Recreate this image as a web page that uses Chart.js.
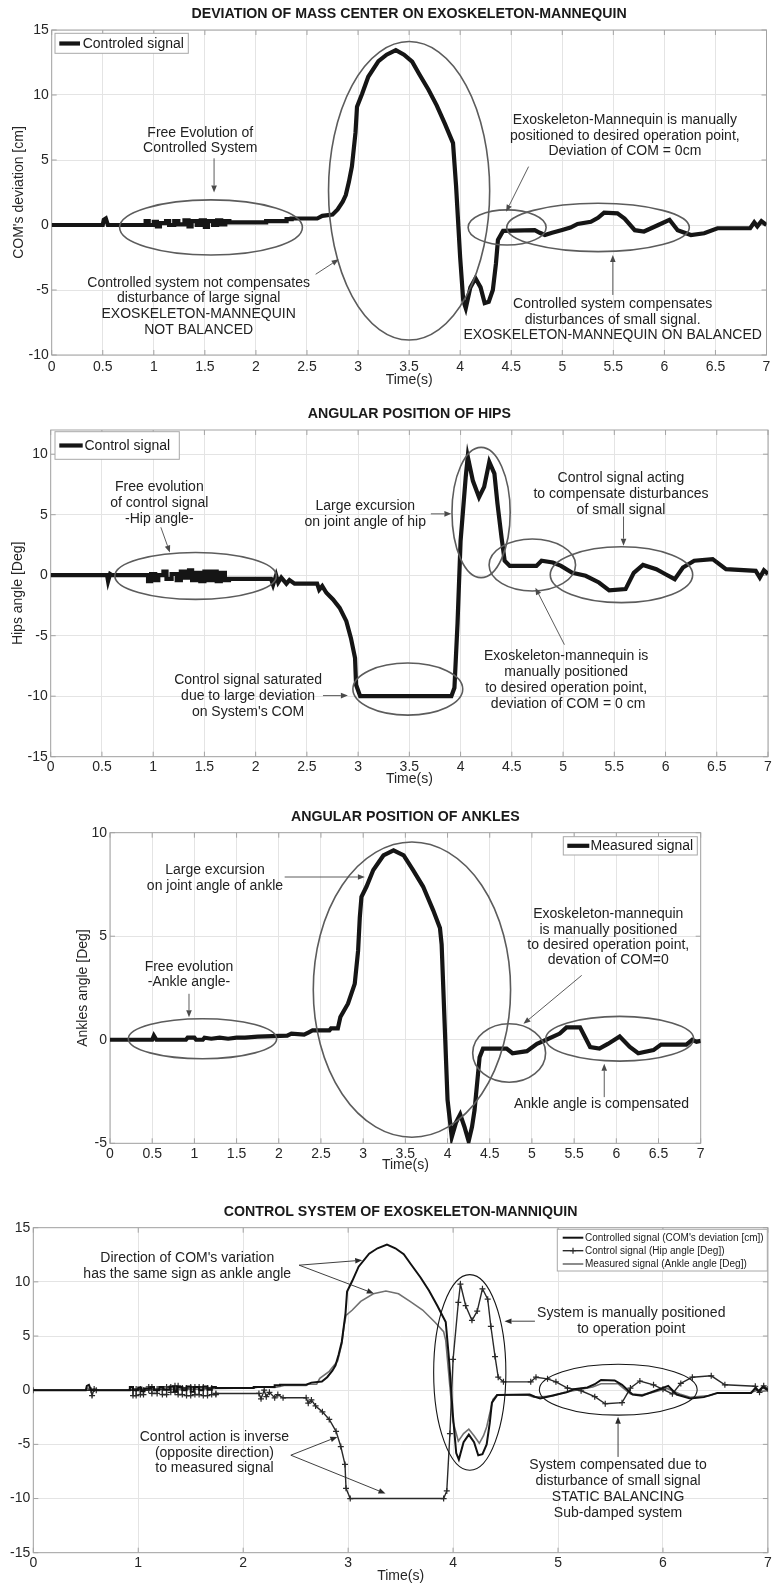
<!DOCTYPE html>
<html><head><meta charset="utf-8">
<script src="https://cdn.jsdelivr.net/npm/chart.js@4.4.1/dist/chart.umd.min.js"></script>
<style>
html,body{margin:0;padding:0;background:#fff;}
body{width:774px;height:1585px;position:relative;overflow:hidden;}
canvas{position:absolute;left:0;}
</style></head>
<body>
<canvas id="c1" width="774" height="392" style="top:0px;width:774px;height:392px"></canvas>
<canvas id="c2" width="774" height="398" style="top:392px;width:774px;height:398px"></canvas>
<canvas id="c3" width="774" height="385" style="top:790px;width:774px;height:385px"></canvas>
<canvas id="c4" width="774" height="415" style="top:1170px;width:774px;height:415px"></canvas>
<script>
// ---------- DATA (time [s], value) ----------
const comSeries = [[0,0],[0.5,0],[0.51,0.4],[0.53,0.5],[0.55,0],[0.9,0],[0.92,0],[0.92,0.3],[0.95,0.3],[0.95,0],[1.0,0],[1.0,0.25],[1.03,0.25],[1.03,-0.1],[1.06,-0.1],[1.06,0.15],[1.12,0.15],[1.12,0.3],[1.15,0.3],[1.15,0],[1.2,0],[1.2,0.3],[1.24,0.3],[1.24,0.05],[1.3,0.05],[1.3,0.35],[1.34,0.35],[1.34,-0.1],[1.37,-0.1],[1.37,0.3],[1.42,0.3],[1.42,0],[1.46,0],[1.46,0.35],[1.5,0.35],[1.5,-0.15],[1.53,-0.15],[1.53,0.3],[1.58,0.3],[1.58,0],[1.62,0],[1.62,0.35],[1.66,0.35],[1.66,0.05],[1.7,0.05],[1.7,0.3],[1.74,0.3],[1.74,0.2],[2.1,0.2],[2.1,0.3],[2.3,0.3],[2.3,0.45],[2.35,0.45],[2.35,0.5],[2.6,0.5],[2.65,0.7],[2.75,0.8],[2.8,1.2],[2.85,1.8],[2.88,2.3],[2.91,3.3],[2.94,4.5],[2.975,7.1],[2.99,9.1],[3.04,10.1],[3.1,11.4],[3.2,12.6],[3.28,13.1],[3.37,13.45],[3.45,13.1],[3.53,12.56],[3.6,11.6],[3.69,10.4],[3.77,9.2],[3.85,7.8],[3.93,6.3],[3.96,3.0],[4.0,-2.5],[4.03,-5.8],[4.055,-6.4],[4.1,-4.8],[4.15,-4.1],[4.2,-4.8],[4.24,-6.0],[4.28,-5.9],[4.32,-5.0],[4.35,-3.0],[4.37,-1.15],[4.42,-0.45],[4.73,-0.4],[4.78,-0.6],[4.83,-0.77],[4.9,-0.6],[4.99,-0.4],[5.08,-0.2],[5.15,0.08],[5.28,0.25],[5.35,0.55],[5.41,0.95],[5.54,0.9],[5.61,0.5],[5.71,-0.4],[5.8,-0.5],[5.94,0],[6.05,0.4],[6.13,-0.4],[6.26,-0.77],[6.39,-0.64],[6.52,-0.25],[6.84,-0.25],[6.88,0.2],[6.91,-0.1],[6.95,0.3],[7.0,0]];
const hipSeries = [[0,0],[0.55,0],[0.56,-0.5],[0.58,0.1],[0.6,0],[0.95,0],[0.95,-0.5],[0.98,-0.5],[0.98,0.1],[1.02,0.1],[1.02,-0.4],[1.05,-0.4],[1.05,0],[1.1,0],[1.1,0.3],[1.13,0.3],[1.13,-0.3],[1.18,-0.3],[1.18,0.1],[1.23,0.1],[1.23,-0.4],[1.27,-0.4],[1.27,0.3],[1.31,0.3],[1.31,-0.2],[1.35,-0.2],[1.35,0.4],[1.38,0.4],[1.38,-0.4],[1.42,-0.4],[1.42,0.2],[1.46,0.2],[1.46,-0.5],[1.5,-0.5],[1.5,0.3],[1.54,0.3],[1.54,-0.4],[1.58,-0.4],[1.58,0.3],[1.62,0.3],[1.62,-0.5],[1.66,-0.5],[1.66,0.2],[1.7,0.2],[1.7,-0.4],[1.74,-0.4],[1.74,-0.3],[2.15,-0.3],[2.17,-0.8],[2.2,0],[2.22,-0.6],[2.25,-0.2],[2.3,-0.7],[2.33,-0.4],[2.38,-0.7],[2.6,-0.7],[2.62,-1.2],[2.65,-0.9],[2.69,-1.45],[2.755,-2.0],[2.82,-2.7],[2.885,-3.8],[2.93,-5.2],[2.97,-6.85],[2.98,-9.06],[3.02,-10],[3.91,-10],[3.94,-9.3],[3.97,-4.0],[4.0,2.85],[4.05,8.1],[4.07,9.8],[4.12,7.8],[4.18,6.45],[4.23,7.3],[4.28,9.36],[4.33,8.4],[4.36,5.9],[4.4,3.1],[4.43,1.2],[4.48,0.77],[4.74,0.77],[4.79,1.2],[4.9,1.05],[4.98,0.77],[5.09,0.2],[5.22,-0.05],[5.35,-0.6],[5.45,-1.25],[5.61,-1.15],[5.69,0.2],[5.78,0.85],[5.91,0.5],[6.0,0.08],[6.09,-0.33],[6.17,0.63],[6.28,1.2],[6.46,1.33],[6.59,0.5],[6.88,0.36],[6.92,-0.2],[6.96,0.4],[7.0,0.1]];
const ankleSeries = [[0,0],[0.5,0],[0.52,0.2],[0.55,0],[0.9,0],[0.92,0.1],[1.0,0.1],[1.02,0],[1.1,0],[1.12,0.1],[1.2,0.05],[1.3,0.1],[1.4,0.05],[1.5,0.1],[1.6,0.1],[1.75,0.15],[2.1,0.2],[2.15,0.3],[2.3,0.25],[2.35,0.35],[2.4,0.45],[2.6,0.45],[2.62,0.55],[2.7,0.55],[2.73,1.1],[2.82,1.74],[2.9,2.7],[2.94,4.3],[2.96,5.9],[2.98,6.9],[3.04,7.4],[3.12,8.2],[3.24,8.9],[3.36,9.15],[3.48,8.9],[3.59,8.2],[3.71,7.4],[3.83,6.25],[3.91,5.4],[3.93,4.6],[3.97,0.3],[4.0,-2.9],[4.05,-4.7],[4.1,-4.0],[4.15,-3.6],[4.2,-4.2],[4.25,-4.9],[4.29,-4.2],[4.32,-3.4],[4.38,-0.84],[4.42,-0.43],[4.7,-0.43],[4.77,-0.65],[4.94,-0.55],[5.06,-0.2],[5.17,0],[5.33,0.3],[5.41,0.6],[5.57,0.6],[5.69,-0.35],[5.8,-0.43],[5.9,-0.2],[6.04,0.16],[6.16,-0.35],[6.26,-0.65],[6.44,-0.5],[6.53,-0.23],[6.83,-0.23],[6.9,0],[6.95,-0.1],[7.0,-0.05]];

// ---------- TICK LABELS ----------
const xTicksHalf = [0,0.5,1,1.5,2,2.5,3,3.5,4,4.5,5,5.5,6,6.5,7];
const xTicksUnit = [0,1,2,3,4,5,6,7];
const yTicksCom = [-10,-5,0,5,10,15];
const yTicksHip = [-15,-10,-5,0,5,10];
const yTicksAnkle = [-5,0,5,10];
const yTicksAll = [-15,-10,-5,0,5,10,15];

// ---------- ANNOTATIONS (data units) ----------
const p1Ellipses = [[1.56,-0.19,0.895,2.12],[3.50,2.63,0.789,11.48],[4.46,-0.19,0.382,1.35],[5.35,-0.19,0.894,1.86]];
const p1Arrows = [[1.59,5.13,1.59,2.5],[2.585,-3.79,2.81,-2.64],[4.67,4.49,4.45,1.02],[5.495,-5.38,5.495,-2.31]];
const p1Notes = [
  {t:1.455,v:7.1,lines:['Free Evolution of','Controlled System']},
  {t:1.439,v:-4.44,lines:['Controlled system not compensates','disturbance of large signal','EXOSKELETON-MANNEQUIN','NOT BALANCED']},
  {t:5.613,v:8.08,lines:['Exoskeleton-Mannequin is manually','positioned to desired operation point,','Deviation of COM = 0cm']},
  {t:5.493,v:-6.08,lines:['Controlled system compensates','disturbances of small signal.','EXOSKELETON-MANNEQUIN ON BALANCED']}
];
const p2Ellipses = [[1.414,-0.06,0.788,1.94],[3.485,-9.41,0.536,2.15],[4.20,5.18,0.284,5.38],[4.70,0.84,0.422,2.15],[5.57,0.04,0.695,2.31]];
const p2Arrows = [[1.075,3.96,1.163,1.88],[3.71,5.07,3.91,5.07],[2.657,-9.95,2.90,-9.95],[5.59,4.85,5.59,2.44],[5.013,-5.74,4.73,-1.03]];
const p2Notes = [
  {t:1.06,v:7.28,lines:['Free evolution','of control signal','-Hip angle-']},
  {t:3.07,v:5.68,lines:['Large excursion','on joint angle of hip']},
  {t:1.926,v:-8.64,lines:['Control signal saturated','due to large deviation',"on System's COM"]},
  {t:5.565,v:8.06,lines:['Control signal acting','to compensate disturbances','of small signal']},
  {t:5.03,v:-6.71,lines:['Exoskeleton-mannequin is','manually positioned','to desired operation point,',' deviation of COM = 0 cm']}
];
const p3Ellipses = [[1.096,0.05,0.879,0.966],[3.578,2.42,1.169,7.13],[4.73,-0.64,0.432,1.41],[6.04,0.05,0.877,1.08]];
const p3Arrows = [[2.07,7.86,3.02,7.86],[0.936,2.22,0.936,1.09],[5.59,3.11,4.90,0.77],[5.857,-2.77,5.857,-1.16]];
const p3Notes = [
  {t:1.244,v:8.18,lines:['Large excursion','on joint angle of ankle']},
  {t:0.936,v:3.51,lines:['Free evolution','-Ankle angle-']},
  {t:5.905,v:6.05,lines:['Exoskeleton-mannequin','is manually positioned','to desired operation point,','devation of COM=0']},
  {t:5.825,v:-3.13,lines:['Ankle angle is compensated']}
];
const p4Ellipses = [[4.159,1.64,0.344,9.03],[5.574,0.05,0.752,2.35]];
const p4Arrows = [[2.533,11.54,3.134,12.0],[2.533,11.54,3.245,8.93],[2.454,-6.0,2.897,-4.31],[2.454,-6.0,3.356,-9.54],[4.78,6.37,4.49,6.37],[5.572,-6.16,5.572,-2.46]];
const p4Notes = [
  {t:1.467,v:12.16,lines:["Direction of COM's variation",'has the same sign as ankle angle']},
  {t:1.726,v:-4.31,lines:['Control action is inverse','(opposite direction)','to measured signal']},
  {t:5.698,v:7.08,lines:['System is manually positioned','to operation point']},
  {t:5.572,v:-6.93,lines:['System compensated due to','disturbance of small signal','STATIC BALANCING','Sub-damped system']}
];

// ---------- RENDERING ----------
const FAMILY = '"Liberation Sans", Arial, Helvetica, sans-serif';
Chart.defaults.font.family = FAMILY;
Chart.defaults.color = '#262626';
const toXY = arr => arr.map(p => ({x:p[0], y:p[1]}));

function drawArrow(ctx,x1,y1,x2,y2){
  const ang = Math.atan2(y2-y1,x2-x1), hl = 7, hw = 2.8;
  const bx = x2 - hl*Math.cos(ang), by = y2 - hl*Math.sin(ang);
  ctx.beginPath(); ctx.moveTo(x1,y1); ctx.lineTo(bx,by); ctx.stroke();
  ctx.beginPath(); ctx.moveTo(x2,y2);
  ctx.lineTo(bx + hw*Math.sin(ang), by - hw*Math.cos(ang));
  ctx.lineTo(bx - hw*Math.sin(ang), by + hw*Math.cos(ang));
  ctx.closePath(); ctx.fill();
}

const decor = {
  id:'decor',
  beforeDatasetsDraw(chart, args, o){
    const {ctx, chartArea:a, scales:{x,y}} = chart;
    ctx.save();
    ctx.strokeStyle = o.boxColor; ctx.lineWidth = 1;
    ctx.beginPath();
    x.ticks.forEach(t => { const p = x.getPixelForValue(t.value);
      ctx.moveTo(p,a.bottom); ctx.lineTo(p,a.bottom-5); ctx.moveTo(p,a.top); ctx.lineTo(p,a.top+5); });
    y.ticks.forEach(t => { const p = y.getPixelForValue(t.value);
      ctx.moveTo(a.left,p); ctx.lineTo(a.left+5,p); ctx.moveTo(a.right,p); ctx.lineTo(a.right-5,p); });
    ctx.stroke();
    ctx.strokeRect(a.left, a.top, a.right-a.left, a.bottom-a.top);
    ctx.restore();
  },
  afterDatasetsDraw(chart, args, o){
    const {ctx, scales:{x,y}} = chart;
    ctx.save();
    ctx.strokeStyle = o.ellColor; ctx.lineWidth = o.ellWidth;
    o.ellipses.forEach(e => {
      const cx = x.getPixelForValue(e[0]), cy = y.getPixelForValue(e[1]);
      const rx = Math.abs(x.getPixelForValue(e[0]+e[2]) - cx), ry = Math.abs(y.getPixelForValue(e[1]+e[3]) - cy);
      ctx.beginPath(); ctx.ellipse(cx,cy,rx,ry,0,0,Math.PI*2); ctx.stroke();
    });
    ctx.strokeStyle = o.arrowColor; ctx.fillStyle = o.arrowColor; ctx.lineWidth = 0.9;
    o.arrows.forEach(r => drawArrow(ctx, x.getPixelForValue(r[0]), y.getPixelForValue(r[1]), x.getPixelForValue(r[2]), y.getPixelForValue(r[3])));
    ctx.fillStyle = '#222'; ctx.font = '14px ' + FAMILY; ctx.textAlign = 'center'; ctx.textBaseline = 'middle';
    o.notes.forEach(n => {
      const px = x.getPixelForValue(n.t), py = y.getPixelForValue(n.v);
      n.lines.forEach((ln,i) => ctx.fillText(ln, px, py + i*o.lineGap));
    });
    ctx.restore();
  },
  afterDraw(chart, args, o){
    const L = o.legend; if (!L) return;
    const ctx = chart.ctx;
    ctx.save();
    ctx.fillStyle = '#fff'; ctx.fillRect(L.x0, L.y0, L.x1-L.x0, L.y1-L.y0);
    ctx.strokeStyle = '#a8a8a8'; ctx.lineWidth = 1; ctx.strokeRect(L.x0, L.y0, L.x1-L.x0, L.y1-L.y0);
    chart.data.datasets.forEach((ds,i) => {
      const yy = L.rows[i];
      ctx.strokeStyle = ds.borderColor; ctx.lineWidth = ds.borderWidth;
      ctx.beginPath(); ctx.moveTo(L.lx0, yy); ctx.lineTo(L.lx1, yy); ctx.stroke();
      if (ds.pointRadius > 0) {
        const mx = (L.lx0+L.lx1)/2, r = ds.pointRadius;
        ctx.lineWidth = 1.2; ctx.beginPath();
        ctx.moveTo(mx-r,yy); ctx.lineTo(mx+r,yy); ctx.moveTo(mx,yy-r); ctx.lineTo(mx,yy+r); ctx.stroke();
      }
      ctx.fillStyle = '#1a1a1a'; ctx.font = L.size + 'px ' + FAMILY; ctx.textAlign = 'left'; ctx.textBaseline = 'middle';
      ctx.fillText(ds.label, L.tx, yy + 0.5);
    });
    ctx.restore();
  }
};

function makePanel(id, s){
  const canvas = document.getElementById(id);
  const W = canvas.width, H = canvas.height;
  const tpTop = s.titleY - 8.5;
  return new Chart(canvas, {
    type:'line',
    data:{datasets:s.datasets},
    options:{
      responsive:false, animation:false, devicePixelRatio:1,
      layout:{padding:{left:0, right:W - s.area.right, top:0, bottom:0}},
      elements:{line:{tension:0}},
      plugins:{
        legend:{display:false}, tooltip:{enabled:false},
        title:{display:true, text:s.title, fullSize:false, color:'#1a1a1a',
          font:{size:14.2, weight:'bold'}, padding:{top:tpTop, bottom:s.area.top - tpTop - 17.04}},
        decor:{boxColor:'#a3a3a3', ellColor:s.ellColor, ellWidth:s.ellWidth, arrowColor:s.arrowColor,
          ellipses:s.ellipses, arrows:s.arrows, notes:s.notes, lineGap:s.lineGap, legend:s.legend}
      },
      scales:{
        x:{type:'linear', min:0, max:7,
          afterFit(sc){ sc.height = H - s.area.bottom; },
          afterBuildTicks(sc){ sc.ticks = s.xTicks.map(v => ({value:v})); },
          ticks:{autoSkip:false, maxRotation:0, minRotation:0, padding:s.xPad, font:{size:14}, color:'#262626', callback:v => String(v)},
          grid:{color:'#e4e4e4', drawTicks:false, lineWidth:1},
          border:{display:false},
          title:{display:true, text:'Time(s)', color:'#262626', font:{size:14}, padding:{top:0, bottom:s.xTitlePad}}
        },
        y:{type:'linear', min:s.yMin, max:s.yMax,
          afterFit(sc){ sc.width = s.area.left; },
          afterBuildTicks(sc){ sc.ticks = s.yTicks.map(v => ({value:v})); },
          ticks:{autoSkip:false, padding:3, font:{size:14}, color:'#262626', callback:v => String(v)},
          grid:{color:'#e4e4e4', drawTicks:false, lineWidth:1},
          border:{display:false},
          title:{display:!!s.yTitle, text:s.yTitle || '', color:'#262626', font:{size:14}, padding:{top:s.yTitlePad, bottom:0}}
        }
      }
    },
    plugins:[decor]
  });
}

const thick = (label, series) => ({label, data:toXY(series), borderColor:'#151515', borderWidth:4.2, pointRadius:0, fill:false});

makePanel('c1', {
  title:'DEVIATION OF MASS CENTER ON EXOSKELETON-MANNEQUIN', titleY:14,
  area:{left:51.7, right:770, top:30, bottom:355},
  xTicks:xTicksHalf, yTicks:yTicksCom, yMin:-10, yMax:15, xPad:3.6, xTitlePad:3.5,
  yTitle:"COM's deviation [cm]", yTitlePad:10.8,
  datasets:[thick('Controled signal', comSeries)],
  ellipses:p1Ellipses, arrows:p1Arrows, notes:p1Notes, lineGap:15.8,
  ellColor:'#5c5c5c', ellWidth:1.6, arrowColor:'#4a4a4a',
  legend:{x0:55, y0:33.3, x1:188.3, y1:53.3, rows:[43.5], lx0:59.3, lx1:80, tx:82.7, size:14}
});

makePanel('c2', {
  title:'ANGULAR POSITION OF HIPS', titleY:22,
  area:{left:50.7, right:770.7, top:38, bottom:364.7},
  xTicks:xTicksHalf, yTicks:yTicksHip, yMin:-15, yMax:12, xPad:2.1, xTitlePad:2.2,
  yTitle:'Hips angle [Deg]', yTitlePad:9.9,
  datasets:[thick('Control signal', hipSeries)],
  ellipses:p2Ellipses, arrows:p2Arrows, notes:p2Notes, lineGap:16,
  ellColor:'#5c5c5c', ellWidth:1.6, arrowColor:'#4a4a4a',
  legend:{x0:55, y0:39.7, x1:179.3, y1:67.3, rows:[53.5], lx0:59.3, lx1:82.7, tx:84.5, size:14}
});

makePanel('c3', {
  title:'ANGULAR POSITION OF ANKLES', titleY:27,
  area:{left:110, right:700.7, top:42.7, bottom:353.3},
  xTicks:xTicksHalf, yTicks:yTicksAnkle, yMin:-5, yMax:10, xPad:2.1, xTitlePad:1.5,
  yTitle:'Ankles angle [Deg]', yTitlePad:74.9,
  datasets:[thick('Measured signal', ankleSeries)],
  ellipses:p3Ellipses, arrows:p3Arrows, notes:p3Notes, lineGap:15.3,
  ellColor:'#5c5c5c', ellWidth:1.6, arrowColor:'#4a4a4a',
  legend:{x0:563.3, y0:46.7, x1:697.3, y1:65, rows:[55.8], lx0:567.3, lx1:589.3, tx:590.5, size:14}
});

makePanel('c4', {
  title:'CONTROL SYSTEM OF EXOSKELETON-MANNIQUIN', titleY:41.7,
  area:{left:33.3, right:770.7, top:57.7, bottom:382.7},
  xTicks:xTicksUnit, yTicks:yTicksAll, yMin:-15, yMax:15, xPad:2.2, xTitlePad:0,
  yTitle:null, yTitlePad:0,
  datasets:[
    {label:"Controlled signal (COM's deviation [cm])", data:toXY(comSeries), borderColor:'#111', borderWidth:2, pointRadius:0, fill:false},
    {label:'Control signal (Hip angle [Deg])', data:toXY(hipSeries), borderColor:'#2a2a2a', borderWidth:1.4, pointStyle:'cross', pointRadius:3, pointBorderWidth:1.2, pointBorderColor:'#2a2a2a', fill:false},
    {label:'Measured signal (Ankle angle [Deg])', data:toXY(ankleSeries), borderColor:'#707070', borderWidth:1.6, pointRadius:0, fill:false}
  ],
  ellipses:p4Ellipses, arrows:p4Arrows, notes:p4Notes, lineGap:15.8,
  ellColor:'#151515', ellWidth:1.1, arrowColor:'#2a2a2a',
  legend:{x0:557.3, y0:59.3, x1:767.3, y1:101, rows:[67.7,80.7,94], lx0:562.7, lx1:583.3, tx:585, size:10}
});
</script>
</body></html>
